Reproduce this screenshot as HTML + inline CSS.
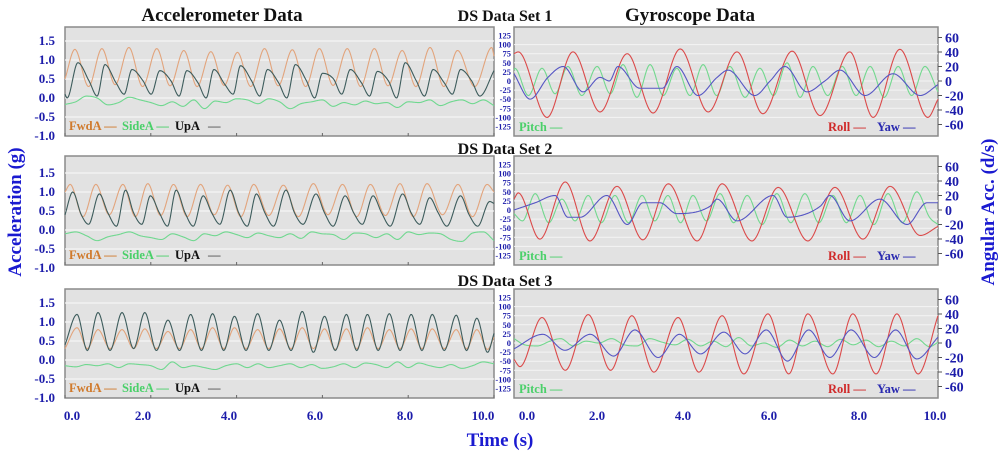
<!DOCTYPE html>
<html><head><meta charset="utf-8"><style>
html,body{margin:0;padding:0;background:#fff;width:1000px;height:457px;overflow:hidden}
svg{display:block;font-family:"Liberation Serif",serif}
</style></head><body>
<svg id="fig" width="1000" height="457" viewBox="0 0 1000 457"></svg>
<script>
// ---------- Data ----------
const gridT=[0,0.25,0.5,0.75,1,1.25,1.5,1.75,2,2.25,2.5,2.75,3,3.25,3.5,3.75,4,4.25,4.5,4.75,5,5.25,5.5,5.75,6,6.25,6.5,6.75,7,7.25,7.5,7.75,8,8.25,8.5,8.75,9,9.25,9.5,9.75,10];
// Set 1 accelerometer
const s1FwdT=[0,0.23,0.55,0.86,1.17,1.49,1.81,2.14,2.45,2.77,3.08,3.40,3.71,4.02,4.33,4.65,4.97,5.30,5.61,5.93,6.25,6.58,6.89,7.21,7.53,7.86,8.18,8.51,8.83,9.15,9.55,9.95,10];
const s1FwdV=[0.5,1.28,0.3,1.3,0.35,1.33,0.3,1.3,0.32,1.25,0.3,1.22,0.33,1.2,0.3,1.3,0.32,1.27,0.3,1.3,0.33,1.3,0.3,1.3,0.32,1.25,0.3,1.33,0.3,1.25,0.3,1.33,1.1];
const s1UpT=[0,0.05,0.30,0.56,0.75,0.93,1.19,1.38,1.56,1.82,2.01,2.21,2.47,2.66,2.84,3.10,3.29,3.47,3.73,3.92,4.09,4.35,4.54,4.72,4.98,5.17,5.37,5.63,5.82,6.00,6.26,6.45,6.65,6.91,7.10,7.28,7.54,7.73,7.93,8.19,8.38,8.58,8.84,9.03,9.22,9.48,9.67,10];
const s1UpV=[0.1,0.0,0.93,0.45,0.05,0.88,0.4,0.1,0.75,0.45,0.1,0.72,0.45,0.05,0.72,0.4,0.0,0.75,0.35,0.1,0.85,0.45,0.05,0.75,0.4,0.0,0.88,0.45,0.0,0.65,0.5,0.1,0.75,0.4,0.05,0.7,0.45,0.0,0.93,0.45,0.05,0.75,0.4,0.1,0.75,0.45,0.05,0.72];
const s1SideV=[-0.17,-0.1,0.05,0.0,-0.18,-0.12,0.02,-0.05,-0.12,-0.2,-0.1,-0.22,-0.05,-0.28,-0.08,-0.12,-0.02,-0.05,-0.15,-0.02,-0.1,-0.28,-0.15,-0.1,-0.05,-0.22,-0.12,-0.18,-0.08,-0.15,-0.12,-0.25,-0.1,-0.12,-0.05,-0.2,-0.1,-0.05,-0.15,-0.05,-0.2];
// Set 2 accelerometer
const s2FwdT=[0,0.12,0.42,0.72,1.03,1.35,1.64,1.93,2.23,2.53,2.85,3.16,3.48,3.79,4.10,4.40,4.75,5.09,5.44,5.79,6.13,6.47,6.80,7.12,7.47,7.81,8.12,8.44,8.80,9.16,9.50,9.84,10];
const s2FwdV=[1.0,1.2,0.35,1.2,0.4,1.2,0.35,1.22,0.38,1.2,0.35,1.2,0.4,1.18,0.35,1.2,0.38,1.18,0.35,1.22,0.4,1.2,0.35,1.2,0.38,1.22,0.35,1.22,0.4,1.2,0.35,1.2,1.0];
const s2UpT=[0,0.18,0.38,0.55,0.80,1.00,1.20,1.41,1.60,1.79,1.99,2.20,2.39,2.59,2.80,2.99,3.22,3.42,3.61,3.85,4.05,4.25,4.46,4.66,4.86,5.15,5.35,5.55,5.85,6.05,6.25,6.53,6.73,6.93,7.18,7.38,7.58,7.87,8.07,8.27,8.50,8.70,8.90,9.22,9.42,9.62,9.90,10];
const s2UpV=[0.4,1.0,0.4,0.15,0.95,0.45,0.1,1.05,0.45,0.15,0.9,0.45,0.1,1.05,0.45,0.1,0.9,0.45,0.15,1.05,0.45,0.1,0.95,0.45,0.1,1.05,0.45,0.15,0.95,0.45,0.1,0.9,0.45,0.15,0.9,0.45,0.1,0.95,0.45,0.15,0.85,0.45,0.1,0.9,0.4,0.1,0.75,0.7];
const s2SideV=[-0.1,-0.05,-0.15,-0.28,-0.18,-0.12,-0.05,-0.15,-0.2,-0.25,-0.1,-0.18,-0.28,-0.1,-0.15,-0.05,-0.12,-0.2,-0.08,-0.15,-0.2,-0.1,-0.22,-0.05,-0.1,-0.12,-0.25,-0.08,-0.1,-0.2,-0.1,-0.25,-0.05,-0.12,-0.08,-0.1,-0.25,-0.3,-0.08,-0.05,-0.28];
// Set 3 accelerometer
const s3UpT=[0,0.28,0.52,0.77,1.05,1.33,1.60,1.86,2.13,2.40,2.67,2.93,3.18,3.44,3.70,3.95,4.22,4.49,4.75,5.00,5.27,5.53,5.79,6.05,6.30,6.56,6.80,7.05,7.30,7.56,7.81,8.07,8.32,8.56,8.84,9.12,9.36,9.60,9.85,10];
const s3UpV=[0.4,1.2,0.25,1.25,0.25,1.25,0.3,1.25,0.25,1.05,0.25,1.2,0.25,1.22,0.25,1.15,0.25,1.22,0.25,1.05,0.25,1.28,0.2,1.15,0.25,1.2,0.25,1.2,0.25,1.22,0.25,1.2,0.25,1.2,0.25,1.18,0.25,1.1,0.2,0.7];
const s3FwdV=[0.3,0.85,0.3,0.8,0.3,0.8,0.3,0.82,0.3,0.75,0.3,0.8,0.3,0.85,0.3,0.85,0.3,0.8,0.3,0.82,0.3,0.85,0.3,0.82,0.28,0.82,0.3,0.85,0.3,0.8,0.3,0.82,0.3,0.82,0.3,0.8,0.3,0.8,0.28,0.6];
const s3SideV=[-0.15,-0.18,-0.12,-0.15,-0.1,-0.2,-0.1,-0.12,-0.15,-0.25,-0.05,-0.2,-0.15,-0.2,-0.25,-0.15,-0.1,-0.2,-0.1,-0.2,-0.15,-0.1,-0.2,-0.12,-0.22,-0.18,-0.1,-0.2,-0.08,-0.12,-0.2,-0.05,-0.2,-0.08,-0.15,-0.2,-0.12,-0.22,-0.15,-0.05,-0.1];
// Set 1 gyroscope
const g1RollT=[0,0.1,0.78,1.39,2.03,2.67,3.28,3.92,4.58,5.26,5.87,6.56,7.22,7.92,8.47,9.1,9.76,10];
const g1RollV=[75,80,-100,80,-85,75,-88,88,-85,80,-90,82,-95,80,-100,87,-100,-50];
const g1PitchT=[0,0.02,0.34,0.66,0.97,1.27,1.6,1.96,2.27,2.57,2.9,3.21,3.52,3.84,4.15,4.46,4.78,5.09,5.45,5.8,6.12,6.44,6.75,7.05,7.4,7.74,8.07,8.4,8.73,9.06,9.38,9.69,10];
const g1PitchV=[30,35,-40,35,-35,40,-40,40,-35,45,-45,45,-40,35,-40,45,-40,40,-45,35,-40,50,-45,40,-40,40,-40,40,-45,40,-40,40,-30];
const g1YawT=[0,0.38,0.8,1.16,1.63,2.03,2.25,2.45,2.97,3.5,3.84,4.34,4.79,5.05,5.68,6.04,6.39,6.91,7.33,7.69,8.28,8.94,9.58,10];
const g1YawV=[10,-25,5,20,-15,5,0,20,-10,-10,20,-20,5,15,-20,0,20,-15,0,15,-20,10,-20,-5];
// Set 2 gyroscope
const g2RollT=[0,0.1,0.61,1.21,1.79,2.43,3.04,3.64,4.32,4.91,5.61,6.23,6.93,7.57,8.23,8.87,9.58,10];
const g2RollV=[30,47,-80,77,-85,65,-82,72,-85,72,-85,62,-85,62,-80,65,-70,-45];
const g2PitchT=[0,0.2,0.5,0.82,1.13,1.44,1.75,2.06,2.38,2.7,3.02,3.32,3.63,3.93,4.22,4.54,4.86,5.18,5.5,5.85,6.2,6.53,6.86,7.19,7.52,7.84,8.16,8.49,8.82,9.16,9.5,9.8,10];
const g2PitchV=[-10,-30,45,-35,30,-30,40,-35,40,-35,40,-30,40,-35,40,-30,45,-35,40,-40,45,-35,45,-35,40,-35,40,-40,45,-35,50,-20,-40];
const g2YawT=[0,0.5,0.97,1.27,1.56,2.19,2.67,3.04,3.44,3.84,4.62,4.79,5.26,6.11,6.44,7.22,7.45,7.92,8.63,9.27,9.74,10];
const g2YawV=[0,10,20,-10,-10,20,-20,10,10,-5,5,15,-15,20,-10,5,20,-15,15,-20,10,10];
// Set 3 gyroscope
const g3RollT=[0,0.14,0.66,1.21,1.75,2.28,2.78,3.3,3.87,4.36,4.91,5.42,5.99,6.48,6.93,7.52,7.99,8.54,9.03,9.53,10];
const g3RollV=[-45,-65,70,-75,78,-75,75,-80,70,-80,75,-85,80,-85,80,-85,80,-85,80,-85,75];
const g3PitchT=[0,0.25,0.55,0.85,1.1,1.4,1.7,2.0,2.3,2.6,2.9,3.2,3.5,3.8,4.1,4.4,4.7,5.0,5.3,5.6,5.9,6.2,6.5,6.8,7.1,7.4,7.7,8.0,8.3,8.6,8.9,9.2,9.5,9.8,10];
const g3PitchV=[12,-5,-8,5,12,-8,5,0,12,-5,-8,12,2,-5,10,-8,5,-10,15,-8,0,-12,8,-8,5,-10,10,-5,8,-10,5,-8,12,-10,2];
const g3YawT=[0,0.68,1.2,1.8,2.35,2.85,3.4,3.9,4.4,4.95,5.45,5.95,6.45,6.95,7.45,7.95,8.5,9.0,9.5,10];
const g3YawV=[-8,12,-10,12,-18,18,-20,12,-15,15,-15,18,-25,18,-20,18,-20,18,-22,8];
// Axis tick labels
const accTicks=[1.5,1.0,0.5,0.0,-0.5,-1.0];
const gyroLeftTicks=[125,100,75,50,25,0,-25,-50,-75,-100,-125];
const gyroRightTicks=[60,40,20,0,-20,-40,-60];
const timeTicks=[0,2,4,6,8,10];

// ---------- Rendering ----------
const NS="http://www.w3.org/2000/svg";
const svg=document.getElementById('fig');
function mk(tag,attrs,parent,text){const e=document.createElementNS(NS,tag);for(const k in attrs)e.setAttribute(k,attrs[k]);if(text!==undefined)e.textContent=text;(parent||svg).appendChild(e);return e;}
function monotone(ts,vs){const n=ts.length,d=[],m=[];for(let i=0;i<n-1;i++)d.push((vs[i+1]-vs[i])/(ts[i+1]-ts[i]));m[0]=d[0];m[n-1]=d[n-2];for(let i=1;i<n-1;i++){m[i]=(d[i-1]*d[i]<=0)?0:(d[i-1]+d[i])/2;}
for(let i=0;i<n-1;i++){if(d[i]===0){m[i]=0;m[i+1]=0;continue;}const a=m[i]/d[i],b=m[i+1]/d[i];const s=a*a+b*b;if(s>9){const t=3/Math.sqrt(s);m[i]=t*a*d[i];m[i+1]=t*b*d[i];}}
return function(t){let i=0;while(i<n-2&&t>ts[i+1])i++;const h=ts[i+1]-ts[i],u=(t-ts[i])/h;const h00=2*u*u*u-3*u*u+1,h10=u*u*u-2*u*u+u,h01=-2*u*u*u+3*u*u,h11=u*u*u-u*u;return h00*vs[i]+h10*h*m[i]+h01*vs[i+1]+h11*h*m[i+1];};}
function drawSeries(g,ts,vs,xf,yf,color,name,w){const f=monotone(ts,vs);let d='';for(let k=0;k<=500;k++){const t=10*k/500;d+=(k?'L':'M')+xf(t).toFixed(2)+' '+yf(f(t)).toFixed(2);}
const p=mk('path',{d:d,fill:'none',stroke:color,'stroke-width':w||1.1},g);

}

const C={fwd:'#e2a47c',side:'#6fd88f',up:'#3d5c5c',roll:'#db4a4a',pitch:'#72d88e',yaw:'#5656c4',tick:'#1c1caa'};
const accTops=[27,156,289],accZero=[98,230,360],gyTops=[27,156,289],gyZero=[81,210,343];
const AX0=65,AX1=494,GX0=514,GX1=938,PH=109;
const accX=t=>AX0+t*(AX1-AX0)/10, gyX=t=>GX0+t*(GX1-GX0)/10;

// titles
let e;
e=mk('text',{x:222,y:21,'font-size':19,'font-weight':'bold','text-anchor':'middle',fill:'#111'},svg,'Accelerometer Data');
e=mk('text',{x:690,y:21,'font-size':19,'font-weight':'bold','text-anchor':'middle',fill:'#111'},svg,'Gyroscope Data');
const dsY=[21,154,286];
for(let i=0;i<3;i++){e=mk('text',{x:505,y:dsY[i],'font-size':16,'font-weight':'bold','text-anchor':'middle',fill:'#111'},svg,'DS Data Set '+(i+1));}

const accSets=[[s1FwdT,s1FwdV,s1UpT,s1UpV,s1SideV],[s2FwdT,s2FwdV,s2UpT,s2UpV,s2SideV],[s3UpT,s3FwdV,s3UpT,s3UpV,s3SideV]];
const gySets=[[g1RollT,g1RollV,g1PitchT,g1PitchV,g1YawT,g1YawV],[g2RollT,g2RollV,g2PitchT,g2PitchV,g2YawT,g2YawV],[g3RollT,g3RollV,g3PitchT,g3PitchV,g3YawT,g3YawV]];

for(let i=0;i<3;i++){
  // accelerometer panel
  const top=accTops[i],z=accZero[i];const ay=v=>z-v*38;
  const g=mk('g',{});
  e=mk('rect',{x:AX0,y:top,width:AX1-AX0,height:PH,fill:'#e2e2e2',stroke:'#8a8a8a','stroke-width':1.5},g);
  for(const v of accTicks){if(v>-1&&v<1.6){e=mk('line',{x1:AX0,x2:AX1,y1:ay(v),y2:ay(v),stroke:'#f6f6f6','stroke-width':1.2},g);}
    e=mk('text',{x:55,y:ay(v)+4,'font-size':13,'font-weight':'bold','text-anchor':'end',fill:C.tick},g,v.toFixed(1));}
  for(const t of timeTicks){e=mk('line',{x1:accX(t),x2:accX(t),y1:top+PH,y2:top+PH-3,stroke:'#666'},g);}
  const S=accSets[i];
  drawSeries(g,gridT,S[4],accX,ay,C.side,'side-accel-line');
  drawSeries(g,S[0],S[1],accX,ay,C.fwd,'forward-accel-line');
  drawSeries(g,S[2],S[3],accX,ay,C.up,'up-accel-line');
  const ly=top+103;
  e=mk('text',{x:69,y:ly,'font-size':12.5,'font-weight':'bold',fill:'#d07a2c'},g,'FwdA —');
  e=mk('text',{x:122,y:ly,'font-size':12.5,'font-weight':'bold',fill:'#4bd06a'},g,'SideA —');
  e=mk('text',{x:175,y:ly,'font-size':12.5,'font-weight':'bold',fill:'#111'},g,'UpA');
  e=mk('text',{x:208,y:ly,'font-size':12.5,'font-weight':'bold',fill:'#555'},g,'—');

  // gyroscope panel
  const gz=gyZero[i];const gl=v=>gz-v*0.364, gr=v=>gz-v*0.725;
  const h=mk('g',{});
  e=mk('rect',{x:GX0,y:gyTops[i],width:GX1-GX0,height:PH,fill:'#e2e2e2',stroke:'#8a8a8a','stroke-width':1.5},h);
  for(const v of gyroLeftTicks){if(Math.abs(v)<125){e=mk('line',{x1:GX0,x2:GX1,y1:gl(v),y2:gl(v),stroke:'#f4f4f4','stroke-width':1},h);}
    e=mk('text',{x:511,y:gl(v)+3,'font-size':8.5,'font-weight':'bold','text-anchor':'end',fill:C.tick},h,String(v));}
  for(const v of gyroRightTicks){e=mk('text',{x:945,y:gr(v)+5,'font-size':14,'font-weight':'bold',fill:C.tick},h,String(v));
    e=mk('line',{x1:GX1,x2:GX1+4,y1:gr(v),y2:gr(v),stroke:'#555'},h);}
  const G=gySets[i];
  drawSeries(h,G[2],G[3],gyX,gl,C.pitch,'pitch-line');
  drawSeries(h,G[0],G[1],gyX,gl,C.roll,'roll-line');
  drawSeries(h,G[4],G[5],gyX,gr,C.yaw,'yaw-line');
  const gy=gyTops[i]+104;
  e=mk('text',{x:519,y:gy,'font-size':12.5,'font-weight':'bold',fill:'#4bd06a'},h,'Pitch —');
  e=mk('text',{x:828,y:gy,'font-size':12.5,'font-weight':'bold',fill:'#d02a2a'},h,'Roll  —');
  e=mk('text',{x:877,y:gy,'font-size':12.5,'font-weight':'bold',fill:'#2a2ab0'},h,'Yaw —');
}

// x tick labels
const accLabX=[72,143,229,315,405,483],gyLabX=[527,597,683,769,859,935];
for(let k=0;k<timeTicks.length;k++){
  e=mk('text',{x:accLabX[k],y:420,'font-size':13,'font-weight':'bold','text-anchor':'middle',fill:C.tick},svg,timeTicks[k].toFixed(1));
  e=mk('text',{x:gyLabX[k],y:420,'font-size':13,'font-weight':'bold','text-anchor':'middle',fill:C.tick},svg,timeTicks[k].toFixed(1));
}
e=mk('text',{x:500,y:446,'font-size':19,'font-weight':'bold','text-anchor':'middle',fill:'#1a1ad0'},svg,'Time (s)');
e=mk('text',{x:0,y:0,'font-size':19,'font-weight':'bold','text-anchor':'middle',fill:'#1a1ad0',transform:'translate(21,212) rotate(-90)'},svg,'Acceleration (g)');
e=mk('text',{x:0,y:0,'font-size':19,'font-weight':'bold','text-anchor':'middle',fill:'#1a1ad0',transform:'translate(994,212) rotate(-90)'},svg,'Angular Acc. (d/s)');
</script>
</body></html>
